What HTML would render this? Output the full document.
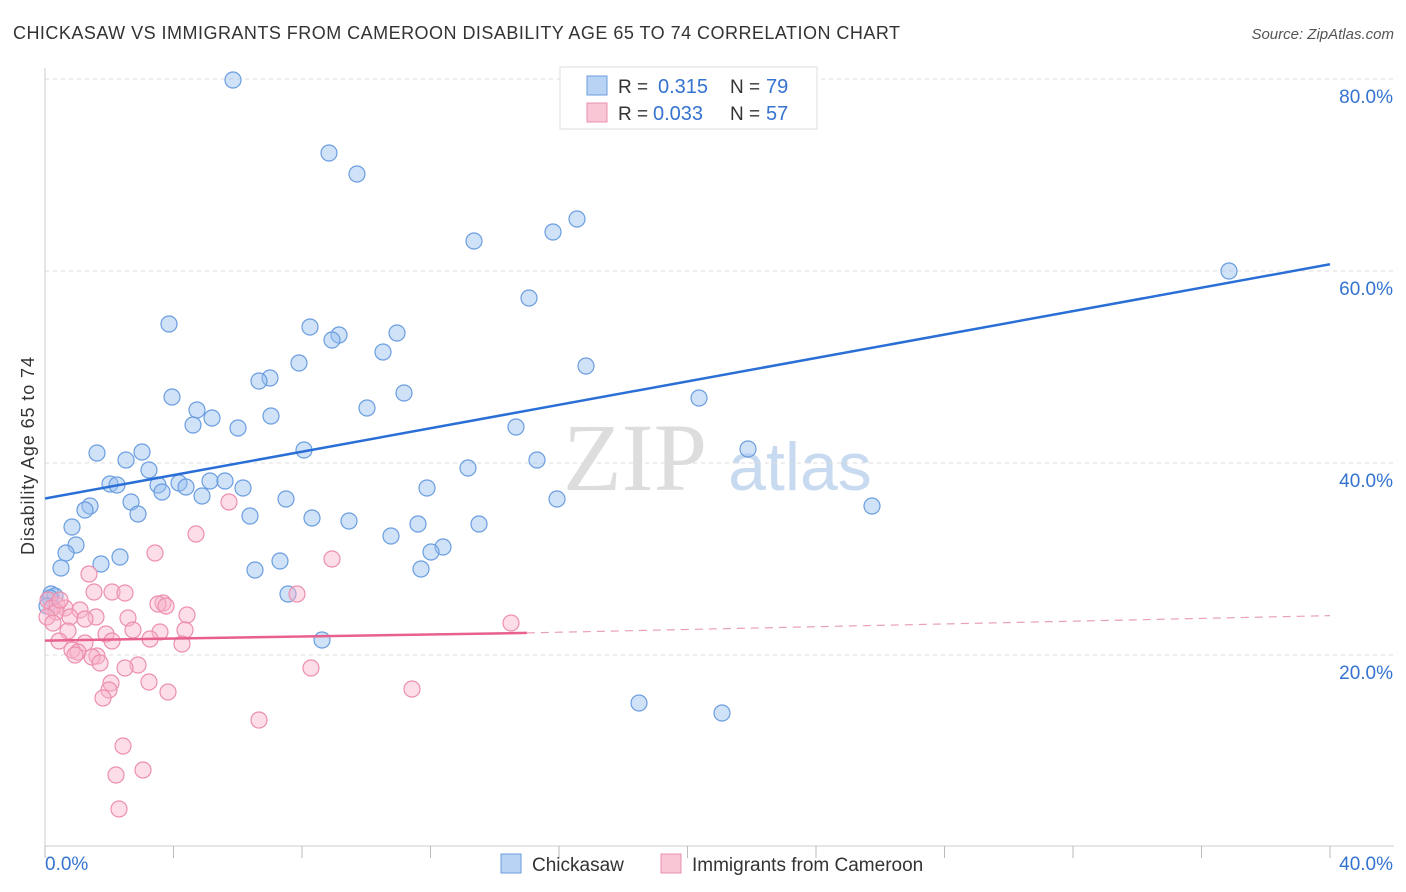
<!DOCTYPE html>
<html><head><meta charset="utf-8"><style>
body{margin:0;background:#fff;font-family:"Liberation Sans",sans-serif}
svg{display:block}
</style></head><body>
<svg id="c" width="1406" height="892">
<text x="13" y="39" font-size="18" fill="#333" textLength="887" lengthAdjust="spacing">CHICKASAW VS IMMIGRANTS FROM CAMEROON DISABILITY AGE 65 TO 74 CORRELATION CHART</text>
<text x="1394" y="39" font-size="15" fill="#555" font-style="italic" text-anchor="end">Source: ZipAtlas.com</text>
<text x="34" y="456" font-size="18" fill="#333" text-anchor="middle" textLength="198" transform="rotate(-90 34 456)">Disability Age 65 to 74</text>
<g><text x="635" y="490" font-size="96" fill="#ddd" text-anchor="middle" font-family="Liberation Serif,serif">ZIP</text><text x="800" y="490" font-size="68" fill="#c8daf0" text-anchor="middle">atlas</text></g>
<g id="grid"></g><g id="marks"></g>
<g>
<rect x="560" y="67" width="257" height="62" fill="#fff" stroke="#ddd"/>
<rect x="587" y="76" width="20" height="19" fill="#b9d3f5" stroke="#6a9de0"/>
<rect x="587" y="103" width="20" height="19" fill="#f9c6d6" stroke="#ec8fae"/>
<text x="618" y="93" font-size="19" fill="#333">R =</text><text x="658" y="93" font-size="20" fill="#3473d0">0.315</text>
<text x="730" y="93" font-size="19" fill="#333">N =</text><text x="766" y="93" font-size="20" fill="#3473d0">79</text>
<text x="618" y="120" font-size="19" fill="#333">R =</text><text x="653" y="120" font-size="20" fill="#3473d0">0.033</text>
<text x="730" y="120" font-size="19" fill="#333">N =</text><text x="766" y="120" font-size="20" fill="#3473d0">57</text>
</g>
<g>
<rect x="501" y="854" width="20" height="19" fill="#b9d3f5" stroke="#6a9de0"/>
<text x="532" y="871" font-size="19" fill="#333">Chickasaw</text>
<rect x="661" y="854" width="20" height="19" fill="#f9c6d6" stroke="#ec8fae"/>
<text x="692" y="871" font-size="19" fill="#333">Immigrants from Cameroon</text>
</g>
</svg>
<script>
const yTicks=[20,40,60,80];
const xTickLabels=["0.0%","40.0%"];
const blueX=[233,329,357,577,553,474,1229,529,169,310,339,332,397,383,299,586,270,259,404,172,699,367,197,212,271,193,238,516,97,142,126,304,748,537,149,468,110,117,158,179,186,162,210,225,243,202,427,131,286,90,85,138,557,872,250,312,349,72,418,479,391,76,66,443,431,120,280,101,61,421,255,51,55,288,322,639,722,50,47].map(p=>(p-45)/32.125);
const blueY=[80,153,174,219,232,241,271,298,324,327,335,340,333,352,363,366,378,381,393,397,398,408,410,418,416,425,428,427,453,452,460,450,449,460,470,468,484,485,485,483,487,492,481,481,488,496,488,502,499,506,510,514,499,506,516,518,521,527,524,524,536,545,553,547,552,557,561,564,568,569,570,594,596,594,640,703,713,598,606].map(p=>(847-p)/9.6);
const pinkX=[229,196,155,332,89,94,112,125,297,48,57,65,52,80,163,158,166,56,96,70,85,128,187,47,53,68,106,133,185,160,150,59,85,112,182,72,78,75,97,92,100,138,125,311,111,149,109,168,103,412,259,123,116,143,119,511,60].map(p=>(p-45)/32.125);
const pinkY=[502,534,553,559,574,592,592,593,594,600,605,608,608,610,603,604,606,612,617,617,619,618,615,617,623,631,634,630,630,632,639,641,643,641,644,650,652,655,656,657,663,665,668,668,683,682,690,692,698,689,720,746,775,770,809,623,600].map(p=>(847-p)/9.6);
const blueLine=[[0,36.3],[40,60.7]];
const pinkLine=[[0,21.5],[15,22.3],[40,24.1]];
const X=v=>45+v*32.125, Y=v=>847-v*9.6;
const NS="http://www.w3.org/2000/svg";
function mk(t,a,p){const e=document.createElementNS(NS,t);for(const k in a)e.setAttribute(k,a[k]);p.appendChild(e);return e;}
const g=document.getElementById('grid'),m=document.getElementById('marks');
yTicks.forEach(t=>{const l=mk('line',{x1:45,x2:1394,y1:Y(t),y2:Y(t),stroke:'#ddd','stroke-dasharray':'4,4'},g);


const tx=mk('text',{x:1393,y:Y(t)+24,'font-size':19,fill:'#3473d0','text-anchor':'end'},g);tx.textContent=t.toFixed(1)+'%';

});
mk('line',{x1:45,x2:45,y1:68,y2:847,stroke:'#ccc'},g);
mk('line',{x1:45,x2:1394,y1:846,y2:846,stroke:'#ccc'},g);
for(let i=0;i<=10;i++){mk('line',{x1:X(i*4),x2:X(i*4),y1:846,y2:858,stroke:'#bbb'},g);}
const xl=mk('text',{x:45,y:870,'font-size':19,fill:'#3473d0'},g);xl.textContent=xTickLabels[0];

const xr=mk('text',{x:1393,y:870,'font-size':19,fill:'#3473d0','text-anchor':'end'},g);xr.textContent=xTickLabels[1];

blueX.forEach((x,i)=>{const c=mk('circle',{cx:X(x),cy:Y(blueY[i]),r:8,fill:'rgba(150,190,240,0.45)',stroke:'#6a9de0','stroke-width':1.2},m);

});
pinkX.forEach((x,i)=>{const c=mk('circle',{cx:X(x),cy:Y(pinkY[i]),r:8,fill:'rgba(248,180,205,0.45)',stroke:'#ec8fae','stroke-width':1.2},m);

});
const bl=mk('line',{x1:X(blueLine[0][0]),y1:Y(blueLine[0][1]),x2:X(blueLine[1][0]),y2:Y(blueLine[1][1]),stroke:'#2a6fd6','stroke-width':2.5},m);


const pl=mk('line',{x1:X(pinkLine[0][0]),y1:Y(pinkLine[0][1]),x2:X(pinkLine[1][0]),y2:Y(pinkLine[1][1]),stroke:'#e8608e','stroke-width':2.5},m);


const pd=mk('line',{x1:X(pinkLine[1][0]),y1:Y(pinkLine[1][1]),x2:X(pinkLine[2][0]),y2:Y(pinkLine[2][1]),stroke:'#e8a0b8','stroke-width':1.2,'stroke-dasharray':'8,6'},m);


</script>
</body></html>
